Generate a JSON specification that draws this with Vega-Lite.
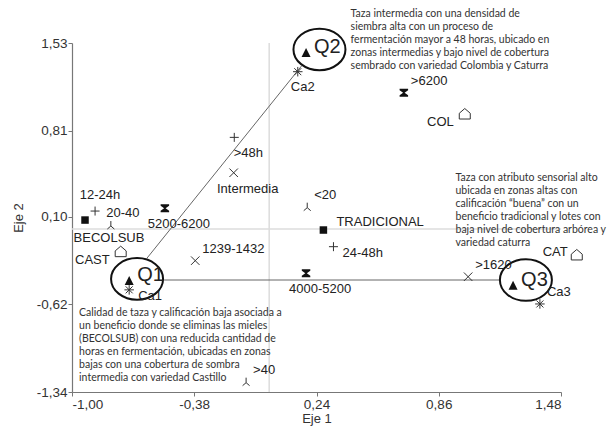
{
  "$schema": "https://vega.github.io/schema/vega-lite/v6.json",
  "width": 489,
  "height": 349,
  "autosize": "none",
  "padding": {"left": 72, "top": 43, "right": 47, "bottom": 34},
  "background": "white",
  "config": {
    "view": {"stroke": null},
    "font": "Liberation Sans",
    "axis": {
      "grid": false,
      "domainColor": "#777",
      "domainWidth": 1.2,
      "tickColor": "#777",
      "tickSize": 4,
      "labelPadding": 1,
      "labelFont": "Liberation Sans",
      "labelFontSize": 13.5,
      "labelColor": "#333",
      "titleFont": "Liberation Sans",
      "titleFontSize": 13,
      "titleFontWeight": "normal",
      "titleColor": "#333"
    }
  },
  "datasets": {
    "puntos": [
      {"label": "Q1", "grupo": "Calidad", "x": -0.71, "y": -0.43},
      {"label": "Q2", "grupo": "Calidad", "x": 0.187, "y": 1.445},
      {"label": "Q3", "grupo": "Calidad", "x": 1.237, "y": -0.468},
      {"label": "Ca1", "grupo": "Calificación", "x": -0.71, "y": -0.5},
      {"label": "Ca2", "grupo": "Calificación", "x": 0.145, "y": 1.294},
      {"label": "Ca3", "grupo": "Calificación", "x": 1.373, "y": -0.616},
      {"label": "12-24h", "grupo": "Fermentación", "x": -0.883, "y": 0.148},
      {"label": ">48h", "grupo": "Fermentación", "x": -0.177, "y": 0.754},
      {"label": "24-48h", "grupo": "Fermentación", "x": 0.326, "y": -0.145},
      {"label": "Intermedia", "grupo": "Altitud", "x": -0.18, "y": 0.463},
      {"label": "1239-1432", "grupo": "Altitud", "x": -0.375, "y": -0.26},
      {"label": ">1620", "grupo": "Altitud", "x": 1.009, "y": -0.392},
      {"label": "5200-6200", "grupo": "Densidad", "x": -0.529, "y": 0.171},
      {"label": "4000-5200", "grupo": "Densidad", "x": 0.187, "y": -0.364},
      {"label": ">6200", "grupo": "Densidad", "x": 0.683, "y": 1.121},
      {"label": "BECOLSUB", "grupo": "Beneficio", "x": -0.934, "y": 0.074},
      {"label": "TRADICIONAL", "grupo": "Beneficio", "x": 0.275, "y": -0.008},
      {"label": "CAST", "grupo": "Variedad", "x": -0.753, "y": -0.186},
      {"label": "COL", "grupo": "Variedad", "x": 0.992, "y": 0.946},
      {"label": "CAT", "grupo": "Variedad", "x": 1.56, "y": -0.213},
      {"label": "20-40", "grupo": "Cobertura", "x": -0.803, "y": 0.033},
      {"label": "<20", "grupo": "Cobertura", "x": 0.193, "y": 0.184},
      {"label": ">40", "grupo": "Cobertura", "x": -0.117, "y": -1.255}
    ],
    "conglomerados": [
      {"grupo": "Q1", "x": -0.67, "y": -0.41},
      {"grupo": "Q2", "x": 0.255, "y": 1.477},
      {"grupo": "Q3", "x": 1.302, "y": -0.419}
    ],
    "segmentos": [
      {"desde": "Q1", "hasta": "Q2", "x": -0.619, "y": -0.238, "x2": 0.164, "y2": 1.341},
      {"desde": "Q1", "hasta": "Q3", "x": -0.533, "y": -0.419, "x2": 1.175, "y2": -0.419}
    ],
    "notas": [
      {"x": 0.413, "y": 1.81, "texto": ["Taza intermedia con una densidad de", "siembra alta con un proceso de", "fermentación mayor a 48 horas, ubicado en", "zonas intermedias y bajo nivel de cobertura", "sembrado con variedad Colombia y Caturra"]},
      {"x": 0.945, "y": 0.461, "texto": ["Taza con atributo sensorial alto", "ubicada en zonas altas con", "calificación “buena” con un", "beneficio tradicional y lotes con", "baja nivel de cobertura arbórea y", "variedad caturra"]},
      {"x": -0.964, "y": -0.649, "texto": ["Calidad de taza y calificación baja asociada a", "un beneficio donde se eliminas las mieles", "(BECOLSUB) con una reducida cantidad de", "horas en fermentación, ubicadas en zonas", "bajas con una cobertura de sombra", "intermedia con variedad Castillo"]}
    ]
  },
  "layer": [
    {
      "data": {"values": [{"origen": 0}]},
      "mark": {"type": "rule", "color": "#dcdcdc", "strokeWidth": 1.5},
      "encoding": {
        "x": {"datum": 0, "type": "quantitative",
          "scale": {"domain": [-1, 1.48], "nice": false, "zero": false},
          "axis": {"title": "Eje 1", "values": [-1, -0.38, 0.24, 0.86, 1.48],
            "labelExpr": "replace(replace(format(datum.value, '.2f'), '.', ','), '\u2212', '-')",
            "titlePadding": 2}}
      }
    },
    {
      "data": {"values": [{"origen": 0}]},
      "mark": {"type": "rule", "color": "#dcdcdc", "strokeWidth": 1.5},
      "encoding": {
        "y": {"datum": 0, "type": "quantitative",
          "scale": {"domain": [-1.34, 1.53], "nice": false, "zero": false},
          "axis": {"title": "Eje 2", "values": [-1.34, -0.62, 0.1, 0.81, 1.53],
            "labelExpr": "replace(replace(format(datum.value, '.2f'), '.', ','), '\u2212', '-')",
            "titlePadding": 11}}
      }
    },
    {
      "data": {"name": "segmentos"},
      "mark": {"type": "rule", "color": "#666", "strokeWidth": 1},
      "encoding": {
        "x": {"field": "x", "type": "quantitative", "scale": {"domain": [-1, 1.48], "nice": false, "zero": false}},
        "y": {"field": "y", "type": "quantitative", "scale": {"domain": [-1.34, 1.53], "nice": false, "zero": false}},
        "x2": {"field": "x2"},
        "y2": {"field": "y2"}
      }
    },
    {
      "data": {"name": "notas"},
      "mark": {"type": "text", "align": "left", "baseline": "top", "font": "Lato", "fontSize": 10.5, "lineHeight": 13, "color": "#333"},
      "encoding": {
        "x": {"field": "x", "type": "quantitative", "scale": {"domain": [-1, 1.48], "nice": false, "zero": false}},
        "y": {"field": "y", "type": "quantitative", "scale": {"domain": [-1.34, 1.53], "nice": false, "zero": false}},
        "text": {"field": "texto"}
      }
    },
    {
      "data": {"name": "conglomerados"},
      "mark": {"type": "point", "filled": false, "color": "#111", "strokeWidth": 2, "size": 2704, "opacity": 1,
        "shape": "M -1 0 A 1 0.8 0 1 1 1 0 A 1 0.8 0 1 1 -1 0 Z"},
      "encoding": {
        "x": {"field": "x", "type": "quantitative", "scale": {"domain": [-1, 1.48], "nice": false, "zero": false}},
        "y": {"field": "y", "type": "quantitative", "scale": {"domain": [-1.34, 1.53], "nice": false, "zero": false}}
      }
    },
    {
      "data": {"name": "puntos"},
      "transform": [{"filter": {"field": "grupo", "oneOf": ["Calidad", "Densidad", "Beneficio"]}}],
      "mark": {"type": "point", "filled": true, "color": "#111", "size": 100, "opacity": 1},
      "encoding": {
        "x": {"field": "x", "type": "quantitative", "scale": {"domain": [-1, 1.48], "nice": false, "zero": false}},
        "y": {"field": "y", "type": "quantitative", "scale": {"domain": [-1.34, 1.53], "nice": false, "zero": false}},
        "shape": {"field": "grupo", "type": "nominal", "legend": null,
          "scale": {"domain": ["Calidad", "Densidad", "Beneficio", "Calificación", "Fermentación", "Altitud", "Variedad", "Cobertura"],
            "range": [
              "M 0 -1.05 L 0.9 0.75 L -0.9 0.75 Z",
              "M -0.85 -0.8 L 0.85 -0.8 L 0.85 -0.5 L 0.15 0 L 0.85 0.5 L 0.85 0.8 L -0.85 0.8 L -0.85 0.5 L -0.15 0 L -0.85 -0.5 Z",
              "M -0.75 -0.75 L 0.75 -0.75 L 0.75 0.75 L -0.75 0.75 Z",
              "M -0.95 0 L 0.95 0 M 0 -0.95 L 0 0.95 M -0.7 -0.7 L 0.7 0.7 M -0.7 0.7 L 0.7 -0.7",
              "M -0.9 0 L 0.9 0 M 0 -0.9 L 0 0.9",
              "M -0.85 -0.85 L 0.85 0.85 M -0.85 0.85 L 0.85 -0.85",
              "M -1.1 1 L -1.1 -0.15 L 0 -1.1 L 1.1 -0.15 L 1.1 1 Z",
              "M 0 -0.8 L 0 0.2 L -0.7 0.8 M 0 0.2 L 0.7 0.8"
            ]}}
      }
    },
    {
      "data": {"name": "puntos"},
      "transform": [{"filter": {"field": "grupo", "oneOf": ["Calificación", "Fermentación", "Altitud", "Variedad", "Cobertura"]}}],
      "mark": {"type": "point", "filled": false, "color": "#333", "strokeWidth": 1, "size": 100, "opacity": 1},
      "encoding": {
        "x": {"field": "x", "type": "quantitative", "scale": {"domain": [-1, 1.48], "nice": false, "zero": false}},
        "y": {"field": "y", "type": "quantitative", "scale": {"domain": [-1.34, 1.53], "nice": false, "zero": false}},
        "shape": {"field": "grupo", "type": "nominal", "legend": null,
          "scale": {"domain": ["Calidad", "Densidad", "Beneficio", "Calificación", "Fermentación", "Altitud", "Variedad", "Cobertura"],
            "range": [
              "M 0 -1.05 L 0.9 0.75 L -0.9 0.75 Z",
              "M -0.85 -0.8 L 0.85 -0.8 L 0.85 -0.5 L 0.15 0 L 0.85 0.5 L 0.85 0.8 L -0.85 0.8 L -0.85 0.5 L -0.15 0 L -0.85 -0.5 Z",
              "M -0.75 -0.75 L 0.75 -0.75 L 0.75 0.75 L -0.75 0.75 Z",
              "M -0.95 0 L 0.95 0 M 0 -0.95 L 0 0.95 M -0.7 -0.7 L 0.7 0.7 M -0.7 0.7 L 0.7 -0.7",
              "M -0.9 0 L 0.9 0 M 0 -0.9 L 0 0.9",
              "M -0.85 -0.85 L 0.85 0.85 M -0.85 0.85 L 0.85 -0.85",
              "M -1.1 1 L -1.1 -0.15 L 0 -1.1 L 1.1 -0.15 L 1.1 1 Z",
              "M 0 -0.8 L 0 0.2 L -0.7 0.8 M 0 0.2 L 0.7 0.8"
            ]}}
      }
    },
    {
      "data": {"name": "puntos"},
      "transform": [{"filter": {"field": "grupo", "equal": "Calidad"}}],
      "mark": {"type": "text", "align": "left", "baseline": "middle", "dx": 8, "dy": -6, "fontSize": 20, "color": "#222"},
      "encoding": {
        "x": {"field": "x", "type": "quantitative", "scale": {"domain": [-1, 1.48], "nice": false, "zero": false}},
        "y": {"field": "y", "type": "quantitative", "scale": {"domain": [-1.34, 1.53], "nice": false, "zero": false}},
        "text": {"field": "label"}
      }
    },
    {
      "data": {"name": "puntos"},
      "transform": [{"filter": {"field": "label", "oneOf": ["<20", ">6200", ">1620", "1239-1432", ">40", "Ca3"]}}],
      "mark": {"type": "text", "align": "left", "baseline": "middle", "dx": 7, "dy": -12, "fontSize": 13, "color": "#222"},
      "encoding": {
        "x": {"field": "x", "type": "quantitative", "scale": {"domain": [-1, 1.48], "nice": false, "zero": false}},
        "y": {"field": "y", "type": "quantitative", "scale": {"domain": [-1.34, 1.53], "nice": false, "zero": false}},
        "text": {"field": "label"}
      }
    },
    {
      "data": {"name": "puntos"},
      "transform": [{"filter": {"field": "label", "oneOf": [">48h", "Intermedia", "4000-5200", "5200-6200"]}}],
      "mark": {"type": "text", "align": "center", "baseline": "middle", "dx": 14, "dy": 16, "fontSize": 13, "color": "#222"},
      "encoding": {
        "x": {"field": "x", "type": "quantitative", "scale": {"domain": [-1, 1.48], "nice": false, "zero": false}},
        "y": {"field": "y", "type": "quantitative", "scale": {"domain": [-1.34, 1.53], "nice": false, "zero": false}},
        "text": {"field": "label"}
      }
    },
    {
      "data": {"name": "puntos"},
      "transform": [{"filter": {"field": "label", "oneOf": ["24-48h", "Ca1"]}}],
      "mark": {"type": "text", "align": "left", "baseline": "middle", "dx": 9, "dy": 6, "fontSize": 13, "color": "#222"},
      "encoding": {
        "x": {"field": "x", "type": "quantitative", "scale": {"domain": [-1, 1.48], "nice": false, "zero": false}},
        "y": {"field": "y", "type": "quantitative", "scale": {"domain": [-1.34, 1.53], "nice": false, "zero": false}},
        "text": {"field": "label"}
      }
    },
    {
      "data": {"name": "puntos"},
      "transform": [{"filter": {"field": "label", "oneOf": ["COL", "CAST"]}}],
      "mark": {"type": "text", "align": "right", "baseline": "middle", "dx": -11, "dy": 8, "fontSize": 13, "color": "#222"},
      "encoding": {
        "x": {"field": "x", "type": "quantitative", "scale": {"domain": [-1, 1.48], "nice": false, "zero": false}},
        "y": {"field": "y", "type": "quantitative", "scale": {"domain": [-1.34, 1.53], "nice": false, "zero": false}},
        "text": {"field": "label"}
      }
    },
    {
      "data": {"name": "puntos"},
      "transform": [{"filter": {"field": "label", "equal": "CAT"}}],
      "mark": {"type": "text", "align": "right", "baseline": "middle", "dx": -9, "dy": -3, "fontSize": 13, "color": "#222"},
      "encoding": {
        "x": {"field": "x", "type": "quantitative", "scale": {"domain": [-1, 1.48], "nice": false, "zero": false}},
        "y": {"field": "y", "type": "quantitative", "scale": {"domain": [-1.34, 1.53], "nice": false, "zero": false}},
        "text": {"field": "label"}
      }
    },
    {
      "data": {"name": "puntos"},
      "transform": [{"filter": {"field": "label", "equal": "TRADICIONAL"}}],
      "mark": {"type": "text", "align": "left", "baseline": "middle", "dx": 13, "dy": -8, "fontSize": 13, "color": "#222"},
      "encoding": {
        "x": {"field": "x", "type": "quantitative", "scale": {"domain": [-1, 1.48], "nice": false, "zero": false}},
        "y": {"field": "y", "type": "quantitative", "scale": {"domain": [-1.34, 1.53], "nice": false, "zero": false}},
        "text": {"field": "label"}
      }
    },
    {
      "data": {"name": "puntos"},
      "transform": [{"filter": {"field": "label", "equal": "Ca2"}}],
      "mark": {"type": "text", "align": "center", "baseline": "middle", "dx": 5, "dy": 15, "fontSize": 13, "color": "#222"},
      "encoding": {
        "x": {"field": "x", "type": "quantitative", "scale": {"domain": [-1, 1.48], "nice": false, "zero": false}},
        "y": {"field": "y", "type": "quantitative", "scale": {"domain": [-1.34, 1.53], "nice": false, "zero": false}},
        "text": {"field": "label"}
      }
    },
    {
      "data": {"name": "puntos"},
      "transform": [{"filter": {"field": "label", "equal": "BECOLSUB"}}],
      "mark": {"type": "text", "align": "center", "baseline": "middle", "dx": 24, "dy": 18, "fontSize": 13, "color": "#222"},
      "encoding": {
        "x": {"field": "x", "type": "quantitative", "scale": {"domain": [-1, 1.48], "nice": false, "zero": false}},
        "y": {"field": "y", "type": "quantitative", "scale": {"domain": [-1.34, 1.53], "nice": false, "zero": false}},
        "text": {"field": "label"}
      }
    },
    {
      "data": {"name": "puntos"},
      "transform": [{"filter": {"field": "label", "equal": "12-24h"}}],
      "mark": {"type": "text", "align": "center", "baseline": "middle", "dx": 5, "dy": -16, "fontSize": 13, "color": "#222"},
      "encoding": {
        "x": {"field": "x", "type": "quantitative", "scale": {"domain": [-1, 1.48], "nice": false, "zero": false}},
        "y": {"field": "y", "type": "quantitative", "scale": {"domain": [-1.34, 1.53], "nice": false, "zero": false}},
        "text": {"field": "label"}
      }
    },
    {
      "data": {"name": "puntos"},
      "transform": [{"filter": {"field": "label", "equal": "20-40"}}],
      "mark": {"type": "text", "align": "center", "baseline": "middle", "dx": 12, "dy": -12, "fontSize": 13, "color": "#222"},
      "encoding": {
        "x": {"field": "x", "type": "quantitative", "scale": {"domain": [-1, 1.48], "nice": false, "zero": false}},
        "y": {"field": "y", "type": "quantitative", "scale": {"domain": [-1.34, 1.53], "nice": false, "zero": false}},
        "text": {"field": "label"}
      }
    }
  ]
}
